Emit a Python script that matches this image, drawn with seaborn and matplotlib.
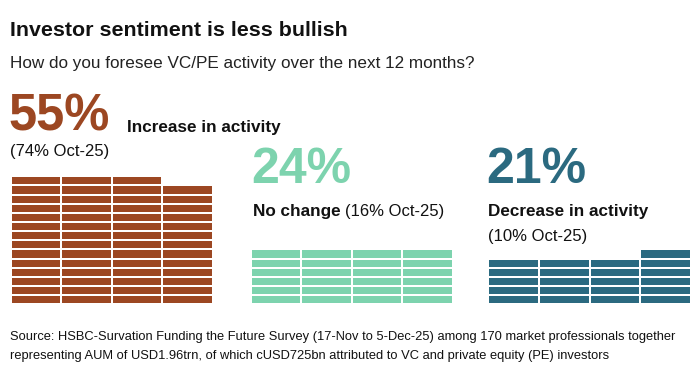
import numpy as np
import matplotlib
matplotlib.use("Agg")
import matplotlib.pyplot as plt
from matplotlib.colors import ListedColormap
import seaborn as sns

# survey shares (%), one brick = 1 respondent-percent
labels = ["Increase in activity", "No change", "Decrease in activity"]
shares = [55, 24, 21]
prev_shares = [74, 16, 10]
# bricks per column as drawn (4 columns each)
brick_cols = [[14, 14, 14, 13], [6, 6, 6, 6], [5, 5, 5, 6]]
colors = ["#9c4722", "#7dd3ae", "#2b6a80"]

W, H = 696, 390
N_ROWS = 14

sns.set_theme(style="white")
plt.rcParams["font.family"] = ["Liberation Sans", "DejaVu Sans"]

fig = plt.figure(figsize=(W / 100, H / 100), dpi=100)


def px(x, y):
    return x / W, 1 - y / H


def waffle(left, right, counts, color):
    top, bottom = 176.3, 304.2
    ax = fig.add_axes([left / W, 1 - bottom / H, (right - left) / W, (bottom - top) / H])
    grid = np.full((N_ROWS, len(counts)), np.nan)
    for c, n in enumerate(counts):
        grid[N_ROWS - n:, c] = 1
    sns.heatmap(grid, ax=ax, cmap=ListedColormap([color]), cbar=False,
                linewidths=1.1, linecolor="white", mask=np.isnan(grid))
    ax.set_xticks([])
    ax.set_yticks([])
    ax.set_xlabel("")
    ax.set_ylabel("")
    for s in ax.spines.values():
        s.set_visible(False)
    ax.patch.set_alpha(0)


waffle(10.8, 213.0, brick_cols[0], colors[0])
waffle(250.8, 452.5, brick_cols[1], colors[1])
waffle(488.2, 690.8, brick_cols[2], colors[2])

# title and subtitle
fig.text(*px(10, 36.5), "Investor sentiment is less bullish", fontsize=15.4,
         fontweight="bold", color="#111111", va="baseline")
fig.text(*px(10, 68), "How do you foresee VC/PE activity over the next 12 months?",
         fontsize=12.3, color="#222222", va="baseline")

# group 1
fig.text(*px(8, 130.5), f"{shares[0]}%", fontsize=36.5, fontweight="bold",
         color=colors[0], va="baseline")
fig.text(*px(127, 132), labels[0], fontsize=12.3, fontweight="bold",
         color="#111111", va="baseline")
fig.text(*px(10, 156), f"({prev_shares[0]}% Oct-25)", fontsize=12,
         color="#111111", va="baseline")

# group 2
fig.text(*px(251, 183), f"{shares[1]}%", fontsize=36, fontweight="bold",
         color=colors[1], va="baseline")
fig.text(*px(253, 216), labels[1], fontsize=12.3, fontweight="bold",
         color="#111111", va="baseline")
fig.text(*px(345, 216), f"({prev_shares[1]}% Oct-25)", fontsize=12,
         color="#111111", va="baseline")

# group 3
fig.text(*px(486, 183), f"{shares[2]}%", fontsize=36, fontweight="bold",
         color=colors[2], va="baseline")
fig.text(*px(488, 216), labels[2], fontsize=12.3, fontweight="bold",
         color="#111111", va="baseline")
fig.text(*px(488, 241), f"({prev_shares[2]}% Oct-25)", fontsize=12,
         color="#111111", va="baseline")

# source
src = ("Source: HSBC-Survation Funding the Future Survey (17-Nov to 5-Dec-25) among 170 market professionals together\n"
       "representing AUM of USD1.96trn, of which cUSD725bn attributed to VC and private equity (PE) investors")
fig.text(*px(10, 331), src, fontsize=9.25, color="#111111", va="top", linespacing=1.75)

fig.savefig("out.png", dpi=100)
